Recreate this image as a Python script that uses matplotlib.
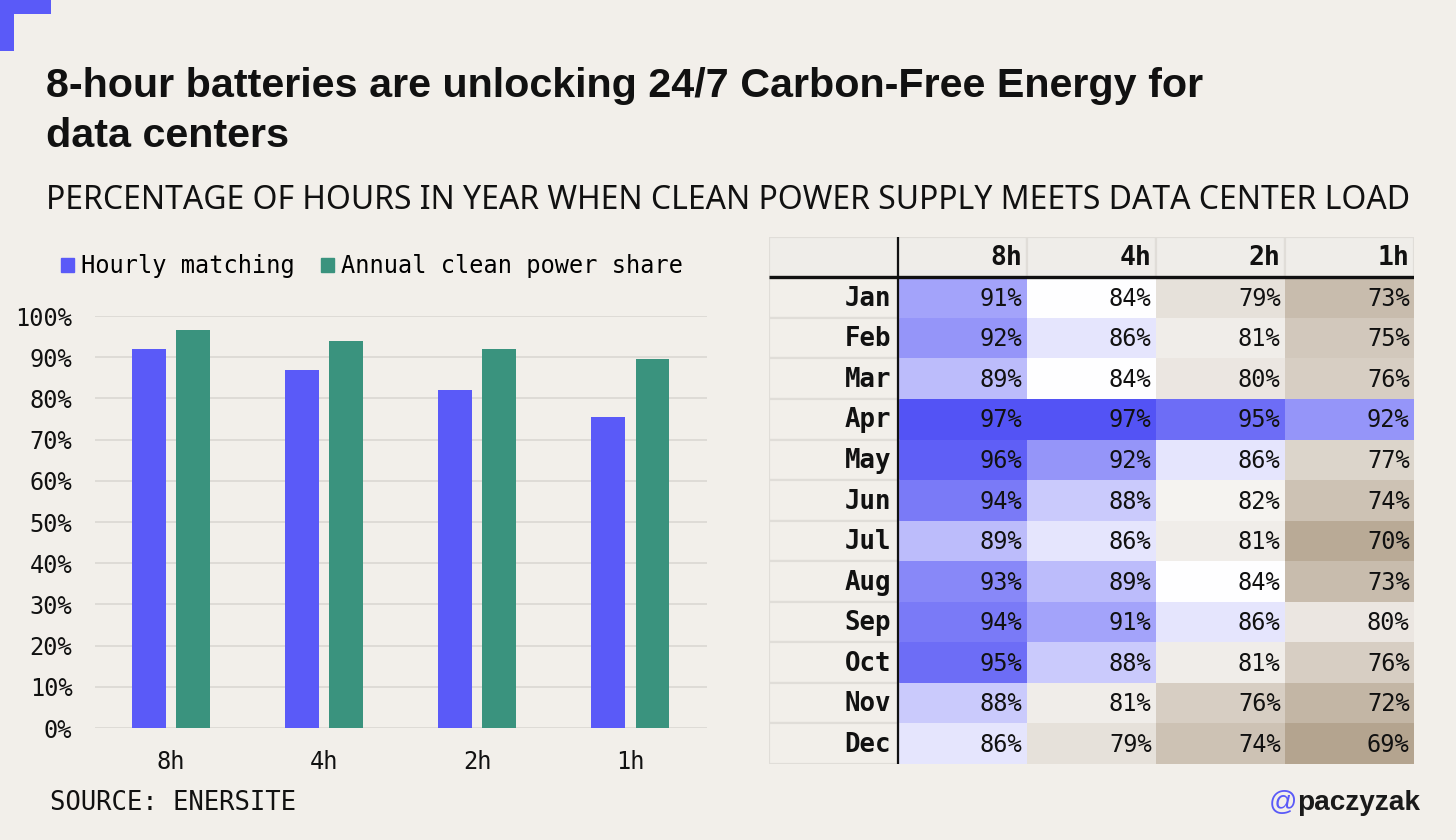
import numpy as np
import matplotlib
matplotlib.use("Agg")
from matplotlib import pyplot as plt
from matplotlib.colors import LinearSegmentedColormap, TwoSlopeNorm
from matplotlib.patches import Rectangle, Patch

# data
durations = ["8h", "4h", "2h", "1h"]
hourly_matching = [92, 87, 82, 75.5]
annual_share = [96.5, 94, 92, 89.5]

months = ["Jan", "Feb", "Mar", "Apr", "May", "Jun",
          "Jul", "Aug", "Sep", "Oct", "Nov", "Dec"]
cfe_8h = [91, 92, 89, 97, 96, 94, 89, 93, 94, 95, 88, 86]
cfe_4h = [84, 86, 84, 97, 92, 88, 86, 89, 91, 88, 81, 79]
cfe_2h = [79, 81, 80, 95, 86, 82, 81, 84, 86, 81, 76, 74]
cfe_1h = [73, 75, 76, 92, 77, 74, 70, 73, 80, 76, 72, 69]

BG = "#f2efea"
BLUE = "#5a5af8"
GREEN = "#3a937e"
MONO = "DejaVu Sans Mono"
SANS = "Noto Sans"
BOLD = "Liberation Sans"

W, H = 1456, 840


def fx(x):
    return x / W


def fy(y):
    return 1 - y / H


fig = plt.figure(figsize=(W / 100, H / 100), dpi=100, facecolor=BG)
renderer = fig.canvas.get_renderer()


def fit(t, target_px):
    # scale the font so the text spans target_px
    w = t.get_window_extent(renderer).width
    t.set_fontsize(t.get_fontsize() * target_px / w)
    return t.get_fontsize()


# corner mark
fig.patches.append(Rectangle((0, fy(14)), fx(51), 14 / H, transform=fig.transFigure,
                             color=BLUE, lw=0))
fig.patches.append(Rectangle((0, fy(51)), fx(14), 51 / H, transform=fig.transFigure,
                             color=BLUE, lw=0))

# titles
t1 = fig.text(fx(46), fy(97), "8-hour batteries are unlocking 24/7 Carbon-Free Energy for",
              fontsize=26, fontweight="bold", family=BOLD, color="#111111", va="baseline")
size = fit(t1, 1157)
fig.text(fx(46), fy(147), "data centers",
         fontsize=size, fontweight="bold", family=BOLD, color="#111111", va="baseline")
t3 = fig.text(fx(46), fy(209),
              "PERCENTAGE OF HOURS IN YEAR WHEN CLEAN POWER SUPPLY MEETS DATA CENTER LOAD",
              fontsize=21, family=SANS, color="#111111", va="baseline")
fit(t3, 1364)

# bar chart
ax = fig.add_axes([fx(94.6), fy(728), (707 - 94.6) / W, (728 - 316) / H])
ax.set_facecolor(BG)
x = np.arange(len(durations))
bw = 0.222
off = 0.144
ax.bar(x - off, hourly_matching, bw, color=BLUE, label="Hourly matching", zorder=3)
ax.bar(x + off, annual_share, bw, color=GREEN, label="Annual clean power share", zorder=3)
ax.set_xlim(-0.5, 3.5)
ax.set_ylim(0, 100)
ax.set_yticks(range(0, 101, 10))
ax.set_yticklabels([f"{v}%" for v in range(0, 101, 10)])
ax.set_xticks(x)
ax.set_xticklabels(durations)
ax.yaxis.grid(True, color="#dedbd6", lw=1.4, zorder=0)
ax.set_axisbelow(True)
for s in ax.spines.values():
    s.set_visible(False)
ax.tick_params(axis="both", length=0, labelsize=17, colors="#111111")
ax.tick_params(axis="y", pad=16)
ax.tick_params(axis="x", pad=16)
for lab in ax.get_xticklabels() + ax.get_yticklabels():
    lab.set_family(MONO)

handles = [Patch(color=BLUE), Patch(color=GREEN)]
fig.legend(handles, ["Hourly matching", "Annual clean power share"],
           loc="center left", bbox_to_anchor=(fx(61), fy(266)), ncol=2,
           frameon=False, handlelength=0.55, handleheight=0.55,
           handletextpad=0.3, columnspacing=1.1, borderpad=0, borderaxespad=0,
           prop={"family": MONO, "size": 17})

src = fig.text(fx(50), fy(803), "SOURCE: ENERSITE", family=MONO, fontsize=18,
               color="#111111", va="center")
fit(src, 246)

# heatmap table
cmap = LinearSegmentedColormap.from_list(
    "cfe", [(0.0, "#b4a48f"), (0.5, "#ffffff"), (1.0, "#5353f5")])
norm = TwoSlopeNorm(vmin=69, vcenter=84, vmax=97)
grid = np.array([cfe_8h, cfe_4h, cfe_2h, cfe_1h]).T

tx = fig.add_axes([fx(768.5), fy(764), (1413.5 - 768.5) / W, (764 - 236.7) / H])
tx.set_xlim(-1, 4)
tx.set_ylim(12, -1)
tx.axis("off")
tx.pcolormesh(np.arange(5), np.arange(13), grid, cmap=cmap, norm=norm, zorder=1)

edge = "#e0ddd8"
for c in range(-1, 4):
    tx.add_patch(Rectangle((c, -1), 1, 1, facecolor="#efede9", edgecolor=edge, lw=1.6, zorder=1))
for r in range(12):
    tx.add_patch(Rectangle((-1, r), 1, 1, facecolor=BG, edgecolor=edge, lw=1.6, zorder=1))

for j, d in enumerate(durations):
    tx.text(j + 1 - 0.035, -0.47, d, ha="right", va="center", family=MONO,
            fontweight="bold", fontsize=19, color="#111111", zorder=4)
for i, m in enumerate(months):
    tx.text(-0.05, i + 0.53, m, ha="right", va="center", family=MONO,
            fontweight="bold", fontsize=18.5, color="#111111", zorder=4)
    for j in range(4):
        tx.text(j + 1 - 0.03, i + 0.53, f"{grid[i, j]}%", ha="right", va="center",
                family=MONO, fontsize=17, color="#111111", zorder=4)

tx.plot([-1, 4], [0, 0], color="#111111", lw=2.4, zorder=5, solid_capstyle="butt")
tx.plot([0, 0], [-1, 12], color="#111111", lw=1.6, zorder=5, solid_capstyle="butt")

# handle
t = fig.text(fx(1420), fy(803), "paczyzak", ha="right", va="center", family=BOLD,
             fontsize=19, fontweight="bold", color="#1a1a1a")
hs = fit(t, 122)
bb = t.get_window_extent(renderer)
fig.text(bb.x0 / W, fy(803), "@", ha="right", va="center", family=BOLD,
         fontsize=hs, color=BLUE)

fig.savefig("out.png", dpi=100, facecolor=BG)
